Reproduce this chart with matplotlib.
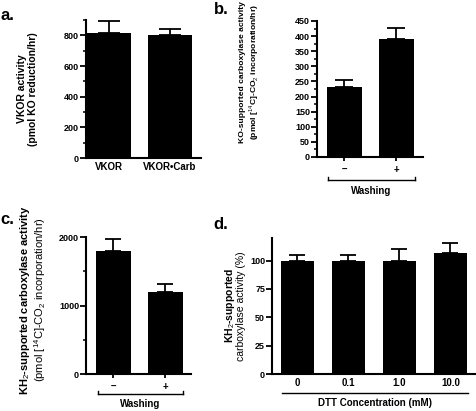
import matplotlib.pyplot as plt
from matplotlib.lines import Line2D
from matplotlib.ticker import MultipleLocator

plt.rcParams['font.family'] = ['Liberation Sans', 'DejaVu Sans']
plt.rcParams['mathtext.fontset'] = 'custom'
plt.rcParams['mathtext.rm'] = 'Liberation Sans'
plt.rcParams['mathtext.bf'] = 'Liberation Sans:bold'

# data
a_labels = ['VKOR', 'VKOR\u2022Carb']
a_vals = [815, 800]
a_err = [80, 40]

b_labels = ['\u2013', '+']
b_vals = [232, 390]
b_err = [23, 38]

c_labels = ['\u2013', '+']
c_vals = [1800, 1200]
c_err = [170, 110]

d_labels = ['0', '0.1', '1.0', '10.0']
d_vals = [100, 100, 100, 107]
d_err = [5, 5, 10, 9]

W, H = 477, 411
fig = plt.figure(figsize=(W / 100, H / 100), dpi=100)


def px(x, y):
    # pixel (from top-left) to figure fraction
    return x / W, 1 - y / H


def axes_px(x0, y0, x1, y1):
    return fig.add_axes([x0 / W, 1 - y1 / H, (x1 - x0) / W, (y1 - y0) / H])


def style(ax, ymax, major, minor=None, xticks=True):
    for s in ['top', 'right']:
        ax.spines[s].set_visible(False)
    for s in ['left', 'bottom']:
        ax.spines[s].set_linewidth(1.5)
    ax.set_ylim(0, ymax)
    ax.yaxis.set_major_locator(MultipleLocator(major))
    if minor:
        ax.yaxis.set_minor_locator(MultipleLocator(minor))
    ax.tick_params(axis='y', which='major', length=4, width=1.3, pad=1,
                   labelsize=6.5)
    ax.tick_params(axis='y', which='minor', length=2.5, width=1.1)
    ax.tick_params(axis='x', length=3 if xticks else 0, width=1.3, pad=3,
                   labelsize=7)
    for t in ax.get_yticklabels() + ax.get_xticklabels():
        t.set_fontweight('bold')


def bars(ax, labels, vals, err, width, cap):
    x = list(range(len(vals)))
    ax.bar(x, vals, width=width, color='black',
           yerr=[[0] * len(err), err], capsize=cap,
           error_kw=dict(elinewidth=1.3, capthick=1.3, ecolor='black'))
    ax.set_xticks(x)
    ax.set_xticklabels(labels)


def line(x0, y0, x1, y1, lw=1.0, color='black'):
    p0 = px(x0, y0)
    p1 = px(x1, y1)
    fig.add_artist(Line2D([p0[0], p1[0]], [p0[1], p1[1]], lw=lw,
                          color=color, transform=fig.transFigure))


def text(x, y, s, size, weight='bold', rot=0):
    fig.text(*px(x, y), s, fontsize=size, fontweight=weight, rotation=rot,
             ha='center', va='center')


# panel a
ax = axes_px(86, 20, 201, 158)
bars(ax, a_labels, a_vals, a_err, 0.72, 8)
ax.set_xlim(-0.38, 1.51)
style(ax, 900, 200, 100, xticks=False)

# panel b
ax = axes_px(317, 21, 423, 157)
bars(ax, b_labels, b_vals, b_err, 0.68, 6.5)
ax.set_xlim(-0.53, 1.52)
style(ax, 450, 50, 25)

# panel c
ax = axes_px(86, 237, 191, 374)
bars(ax, c_labels, c_vals, c_err, 0.68, 6)
ax.set_xlim(-0.53, 1.5)
style(ax, 2000, 1000, 500)

# panel d
ax = axes_px(272, 238, 476, 374)
bars(ax, d_labels, d_vals, d_err, 0.66, 6)
ax.set_xlim(-0.5, 3.5)
style(ax, 120, 25, xticks=False)

# panel letters
text(7, 15, 'a.', 12)
text(221, 10, 'b.', 12)
text(7, 219, 'c.', 12)
text(221, 224, 'd.', 12)

# y labels
text(22, 89, 'VKOR activity', 7.5, rot=90)
text(33, 89, '(pmol KO reduction/hr)', 7.5, rot=90)
text(243, 72, 'KO-supported carboxylase activity', 6.1, rot=90)
text(254, 72, '(pmol [$^{14}$C]-CO$_2$ incorporation/hr)', 6.1, rot=90)
text(25, 300, 'KH$_2$-supported carboxylase activity', 8, rot=90)
text(40, 300, '(pmol [$^{14}$C]-CO$_2$ incorporation/hr)', 8, 'normal', rot=90)
text(230, 306, 'KH$_2$-supported', 7.5, rot=90)
text(241, 306, 'carboxylase activity (%)', 7.5, 'normal', rot=90)

# brackets / group labels
line(328, 180, 415, 180)
line(328, 180, 328, 177)
line(415, 180, 415, 177)
text(371, 191, 'Washing', 7, 'bold')

line(98, 394, 183, 394)
line(98, 394, 98, 391)
line(183, 394, 183, 391)
text(140, 404, 'Washing', 7, 'bold')

line(282, 393, 468, 393)
text(375, 403, 'DTT Concentration (mM)', 7, 'bold')

fig.savefig('out.png', dpi=100)
